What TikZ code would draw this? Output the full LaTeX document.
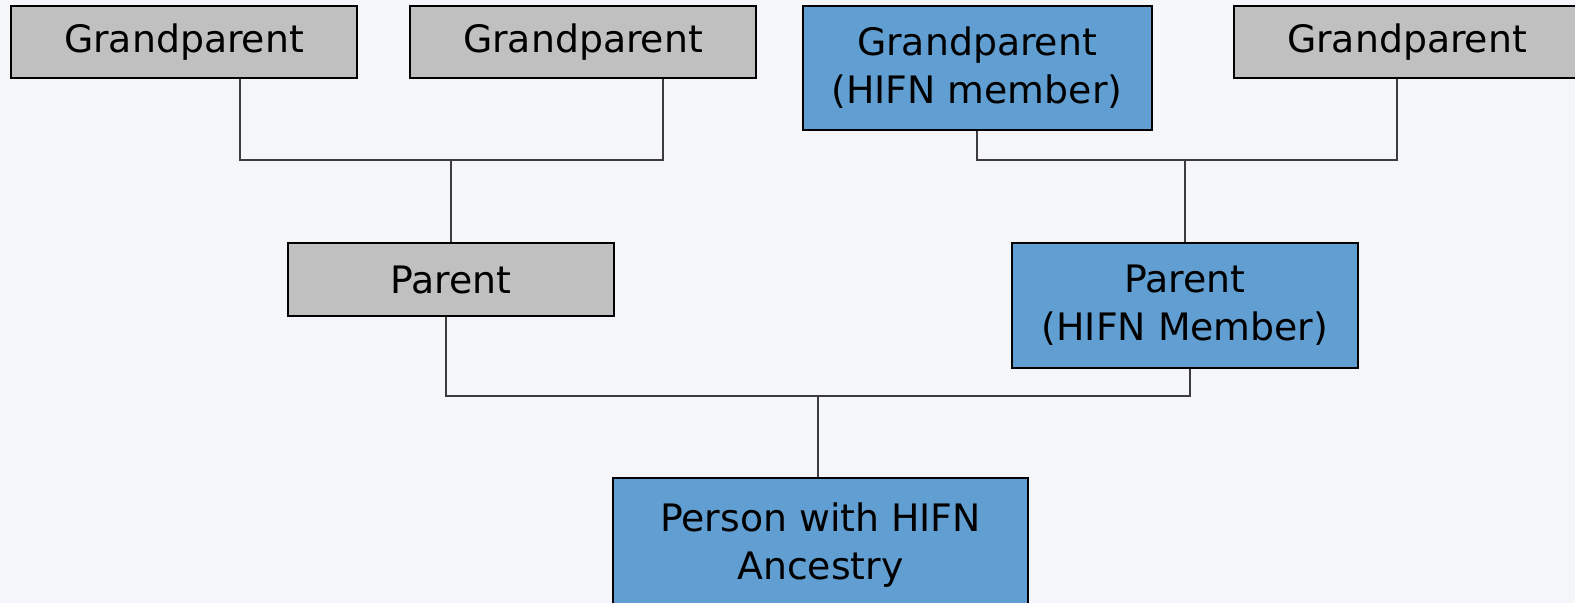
\documentclass[tikz,border=0pt]{standalone}
\usepackage{fontspec}
\setmainfont{DejaVu Sans}
\usepackage{tikz}
\usetikzlibrary{positioning,calc}
\definecolor{ftbg}{RGB}{245,246,250}
\definecolor{ftgray}{RGB}{192,192,192}
\definecolor{ftblue}{RGB}{97,158,209}
\definecolor{ftline}{RGB}{60,60,60}
\tikzstyle{personbox} = [rectangle, draw=black, line width=1pt, fill=ftgray, align=center, inner sep=0pt, font=\fontsize{18.9}{24}\selectfont]
\tikzstyle{memberbox} = [personbox, fill=ftblue]
\tikzstyle{link} = [line width=0.9pt, color=ftline]

\begin{document}
\begin{tikzpicture}[x=0.5pt,y=-0.5pt]
\fill[ftbg] (0,0) rectangle (1575,603);
\useasboundingbox (0,0) rectangle (1575,603);

% Grandparents
\node[personbox, minimum width=173pt, minimum height=36pt] (gpa) at (184,42) {Grandparent};
\node[personbox, minimum width=173pt, minimum height=36pt] (gpb) at (583,42) {Grandparent};
\node[memberbox, minimum width=174.5pt, minimum height=62pt] (gpc) at (977,68) {Grandparent\\(HIFN member)};
\node[personbox, minimum width=173pt, minimum height=36pt] (gpd) at (1407,42) {Grandparent};

% Parents
\node[personbox, minimum width=163pt, minimum height=36.5pt] (pa) at (451,279.5) {Parent};
\node[memberbox, minimum width=173pt, minimum height=62.5pt] (pb) at (1185,305.5) {Parent\\(HIFN Member)};

% Person
\node[memberbox, minimum width=207.5pt, minimum height=67pt] (me) at (820.5,545) {Person with HIFN\\Ancestry};

% Junctions
\coordinate (ja) at (451,160);
\coordinate (jb) at (1185,160);
\coordinate (jc) at (818,396);

% Lines
\draw[link] ([xshift=28pt]gpa.south) |- (ja) -| ([xshift=40pt]gpb.south);
\draw[link] (ja) -- (pa.north);
\draw[link] (gpc.south) |- (jb) -| ([xshift=-5pt]gpd.south);
\draw[link] (jb) -- (pb.north);
\draw[link] ([xshift=-2.5pt]pa.south) |- (jc) -| ([xshift=2.5pt]pb.south);
\draw[link] (jc) -- (jc |- me.north);
\end{tikzpicture}
\end{document}
